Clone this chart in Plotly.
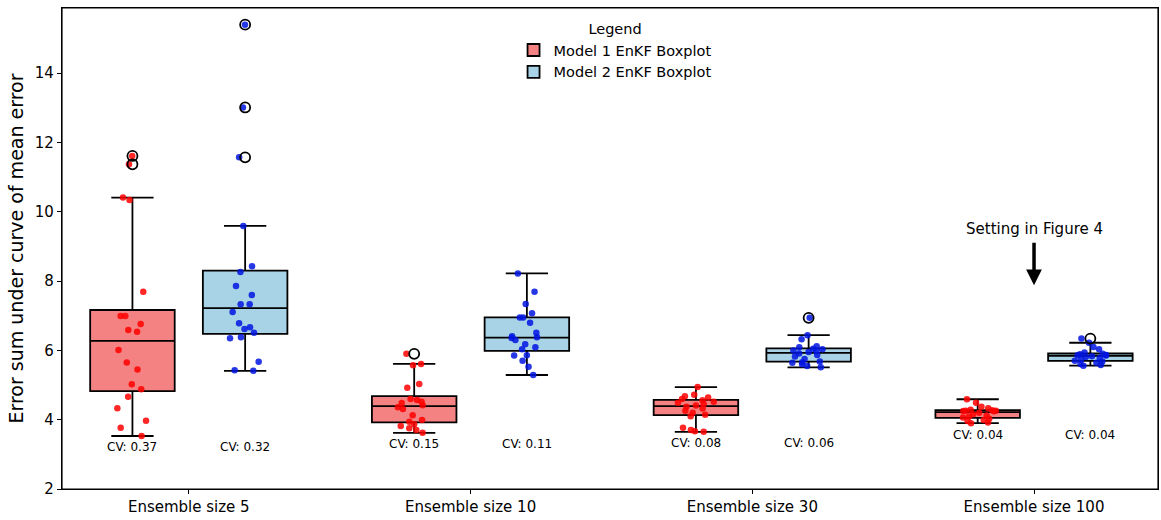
import numpy as np
import plotly.graph_objects as go

# ---------------- data ----------------
categories = ["Ensemble size 5", "Ensemble size 10", "Ensemble size 30", "Ensemble size 100"]

model1_size5 = [11.61, 11.37, 10.41, 10.34, 7.69, 6.99, 6.99, 6.76, 6.59, 6.54,
                6.01, 5.65, 5.45, 5.02, 4.88, 4.66, 4.33, 3.97, 3.77, 3.53]
model2_size5 = [15.40, 13.01, 11.57, 9.59, 8.43, 8.26, 7.86, 7.60, 7.33, 7.33,
                7.11, 6.78, 6.67, 6.62, 6.51, 6.38, 6.35, 5.67, 5.43, 5.41]

model1_size10 = [5.90, 5.61, 5.57, 5.03, 4.92, 4.60, 4.57, 4.52, 4.48, 4.42,
                 4.36, 4.31, 4.13, 3.99, 3.94, 3.87, 3.82, 3.75, 3.70, 3.62]
model2_size10 = [8.22, 7.69, 7.34, 7.07, 6.95, 6.95, 6.80, 6.51, 6.41, 6.38,
                 6.36, 6.30, 6.18, 6.09, 6.03, 5.86, 5.85, 5.70, 5.53, 5.29]

model1_size30 = [4.94, 4.72, 4.68, 4.64, 4.60, 4.56, 4.52, 4.49, 4.45, 4.41,
                 4.37, 4.32, 4.26, 4.20, 4.14, 4.10, 3.77, 3.70, 3.67, 3.65]
model2_size30 = [6.94, 6.44, 6.32, 6.12, 6.09, 6.05, 6.03, 6.00, 5.98, 5.95,
                 5.91, 5.87, 5.82, 5.75, 5.68, 5.66, 5.64, 5.60, 5.55, 5.51]

model1_size100 = [4.59, 4.49, 4.37, 4.33, 4.29, 4.27, 4.26, 4.26, 4.25, 4.24,
                  4.20, 4.16, 4.12, 4.09, 4.06, 4.03, 3.99, 3.96, 3.92, 3.90]
model2_size100 = [6.34, 6.22, 6.10, 6.03, 5.94, 5.90, 5.89, 5.87, 5.86, 5.85,
                  5.83, 5.81, 5.78, 5.74, 5.70, 5.68, 5.64, 5.61, 5.58, 5.56]

model1_values = [model1_size5, model1_size10, model1_size30, model1_size100]
model2_values = [model2_size5, model2_size10, model2_size30, model2_size100]

cv_model1 = ["0.37", "0.15", "0.08", "0.04"]
cv_model2 = ["0.32", "0.11", "0.06", "0.04"]

y_ticks = [2, 4, 6, 8, 10, 12, 14]

model_names = ["Model 1 EnKF Boxplot", "Model 2 EnKF Boxplot"]
box_fill = ["#F48282", "#A8D3E6"]
point_color = ["rgba(255,0,0,0.85)", "rgba(0,20,225,0.85)"]

# ---------------- layout helpers ----------------
centers = np.arange(len(categories))
offset = 0.2
box_w = 0.3


def stats(vals):
    v = np.asarray(vals, dtype=float)
    q1, med, q3 = np.percentile(v, [25, 50, 75])
    iqr = q3 - q1
    lo_lim, hi_lim = q1 - 1.5 * iqr, q3 + 1.5 * iqr
    inside = v[(v >= lo_lim) & (v <= hi_lim)]
    out = v[(v < lo_lim) | (v > hi_lim)]
    return q1, med, q3, inside.min(), inside.max(), out


fig = go.Figure()

for m, (series, sign) in enumerate([(model1_values, -1), (model2_values, 1)]):
    pos = centers + sign * offset
    st = [stats(s) for s in series]
    fig.add_trace(go.Box(
        x=pos, q1=[s[0] for s in st], median=[s[1] for s in st], q3=[s[2] for s in st],
        lowerfence=[s[3] for s in st], upperfence=[s[4] for s in st],
        width=box_w, whiskerwidth=0.5, fillcolor=box_fill[m],
        line=dict(color="black", width=1.8), boxpoints=False,
        name=model_names[m], legendgroup=f"g{m}", showlegend=True, hoverinfo="skip"))

    # outliers (hollow circles)
    ox, oy = [], []
    for p, s in zip(pos, st):
        for o in s[5]:
            ox.append(p)
            oy.append(o)
    fig.add_trace(go.Scatter(
        x=ox, y=oy, mode="markers", showlegend=False, legendgroup=f"g{m}",
        marker=dict(symbol="circle-open", size=10, color="black", line=dict(width=1.8))))

    # jittered points
    px, py = [], []
    for p, s in zip(pos, series):
        px += [p] * len(s)
        py += list(s)
    fig.add_trace(go.Box(
        x=px, y=py, boxpoints="all", jitter=0.45, pointpos=0, width=box_w,
        fillcolor="rgba(0,0,0,0)", line=dict(color="rgba(0,0,0,0)", width=0),
        marker=dict(color=point_color[m], size=6.5), showlegend=False,
        legendgroup=f"g{m}", hoveron="points"))

# CV labels
annotations = []
for i in range(len(categories)):
    gmin = min(min(model1_values[i]), min(model2_values[i]))
    for sign, cv in [(-1, cv_model1[i]), (1, cv_model2[i])]:
        annotations.append(dict(x=centers[i] + sign * offset, y=gmin - 0.33, text=f"CV: {cv}",
                                showarrow=False, font=dict(size=12, color="black"),
                                xref="x", yref="y"))

annotations.append(dict(x=centers[3], y=9.5, text="Setting in Figure 4", showarrow=False,
                        font=dict(size=15, color="black"), xref="x", yref="y"))
annotations.append(dict(x=centers[3], y=7.88, ax=centers[3], ay=9.15, axref="x", ayref="y",
                        xref="x", yref="y", text="", showarrow=True, arrowhead=2,
                        arrowsize=0.9, arrowwidth=3.5, arrowcolor="black"))

fig.update_layout(
    width=1161, height=520, autosize=False,
    margin=dict(l=62, r=3, t=8, b=31),
    paper_bgcolor="white", plot_bgcolor="white",
    font=dict(family="DejaVu Sans", size=15, color="black"),
    boxmode="overlay",
    annotations=annotations,
    shapes=[dict(type="rect", xref="paper", yref="paper", x0=0, x1=1, y0=0, y1=1,
                 line=dict(color="black", width=1.2), fillcolor="rgba(0,0,0,0)", layer="above")],
    legend=dict(
        title=dict(text="Legend", side="top center", font=dict(size=14.5)),
        x=0.5046, xanchor="center", y=0.985, yanchor="top",
        bgcolor="rgba(255,255,255,0)", borderwidth=0,
        font=dict(size=14.5), itemwidth=30, tracegroupgap=0, traceorder="grouped"),
    xaxis=dict(range=[-0.45, 3.44], tickvals=list(centers), ticktext=categories,
               showline=True, linecolor="black", linewidth=1.2, mirror=True,
               ticks="outside", ticklen=4, tickcolor="black", showgrid=False,
               zeroline=False, tickfont=dict(size=15)),
    yaxis=dict(range=[2, 15.88], tickvals=y_ticks, ticktext=[str(t) for t in y_ticks],
               showline=True, linecolor="black", linewidth=1.2, mirror=True,
               ticks="outside", ticklen=4, tickcolor="black", showgrid=False,
               zeroline=False, tickfont=dict(size=15),
               title=dict(text="Error sum under curve of mean error", font=dict(size=19), standoff=6)),
)

fig.write_html("out.html", config={"responsive": False, "displayModeBar": False},
               post_script="document.body.style.margin='0px';")
